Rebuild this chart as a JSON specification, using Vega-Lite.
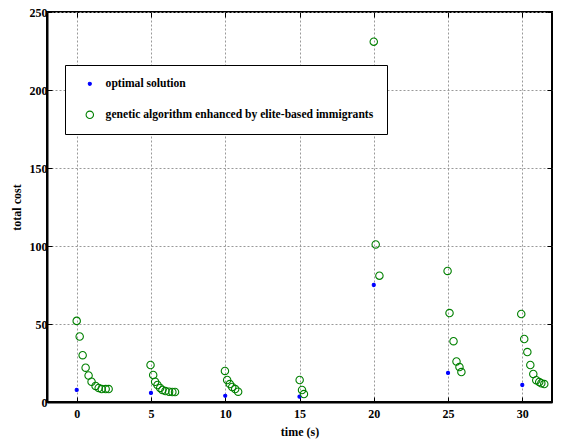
{
  "$schema": "https://vega.github.io/schema/vega-lite/v6.json",
  "width": 505,
  "height": 390,
  "autosize": {"type": "none"},
  "padding": {"left": 47, "top": 12, "right": 9, "bottom": 39},
  "background": "white",
  "config": {
    "view": {"stroke": "black", "strokeWidth": 2},
    "font": "'Liberation Serif', 'Times New Roman', serif",
    "axis": {
      "labelFont": "'Liberation Serif', 'Times New Roman', serif", "labelFontWeight": "bold", "labelFontSize": 12, "labelColor": "black",
      "titleFont": "'Liberation Serif', 'Times New Roman', serif", "titleFontWeight": "bold", "titleFontSize": 12, "titleColor": "black",
      "domainColor": "black", "domainWidth": 2,
      "tickColor": "black", "tickSize": -5, "tickWidth": 1,
      "gridColor": "#999999", "gridDash": [2, 2], "gridWidth": 1
    },
    "legend": {
      "labelFont": "'Liberation Serif', 'Times New Roman', serif", "labelFontWeight": "bold", "labelFontSize": 11.6, "labelColor": "black",
      "labelLimit": 500
    }
  },
  "data": {
    "values": [
      {"t": 0, "cost": 7.7, "series": "optimal solution"},
      {"t": 5, "cost": 5.8, "series": "optimal solution"},
      {"t": 10, "cost": 4.0, "series": "optimal solution"},
      {"t": 15, "cost": 3.4, "series": "optimal solution"},
      {"t": 20, "cost": 75, "series": "optimal solution"},
      {"t": 25, "cost": 18.6, "series": "optimal solution"},
      {"t": 30, "cost": 10.9, "series": "optimal solution"},
      {"t": 0, "cost": 52, "series": "genetic algorithm enhanced by elite-based immigrants"},
      {"t": 0.2, "cost": 42, "series": "genetic algorithm enhanced by elite-based immigrants"},
      {"t": 0.4, "cost": 30, "series": "genetic algorithm enhanced by elite-based immigrants"},
      {"t": 0.6, "cost": 22, "series": "genetic algorithm enhanced by elite-based immigrants"},
      {"t": 0.8, "cost": 17, "series": "genetic algorithm enhanced by elite-based immigrants"},
      {"t": 1.0, "cost": 13, "series": "genetic algorithm enhanced by elite-based immigrants"},
      {"t": 1.27, "cost": 10.3, "series": "genetic algorithm enhanced by elite-based immigrants"},
      {"t": 1.48, "cost": 9.0, "series": "genetic algorithm enhanced by elite-based immigrants"},
      {"t": 1.68, "cost": 8.3, "series": "genetic algorithm enhanced by elite-based immigrants"},
      {"t": 1.95, "cost": 8.3, "series": "genetic algorithm enhanced by elite-based immigrants"},
      {"t": 2.15, "cost": 8.3, "series": "genetic algorithm enhanced by elite-based immigrants"},
      {"t": 4.97, "cost": 23.7, "series": "genetic algorithm enhanced by elite-based immigrants"},
      {"t": 5.15, "cost": 17.3, "series": "genetic algorithm enhanced by elite-based immigrants"},
      {"t": 5.28, "cost": 13, "series": "genetic algorithm enhanced by elite-based immigrants"},
      {"t": 5.44, "cost": 10.9, "series": "genetic algorithm enhanced by elite-based immigrants"},
      {"t": 5.62, "cost": 9.0, "series": "genetic algorithm enhanced by elite-based immigrants"},
      {"t": 5.77, "cost": 7.7, "series": "genetic algorithm enhanced by elite-based immigrants"},
      {"t": 5.97, "cost": 7.0, "series": "genetic algorithm enhanced by elite-based immigrants"},
      {"t": 6.22, "cost": 6.6, "series": "genetic algorithm enhanced by elite-based immigrants"},
      {"t": 6.44, "cost": 6.4, "series": "genetic algorithm enhanced by elite-based immigrants"},
      {"t": 6.62, "cost": 6.4, "series": "genetic algorithm enhanced by elite-based immigrants"},
      {"t": 9.98, "cost": 19.9, "series": "genetic algorithm enhanced by elite-based immigrants"},
      {"t": 10.13, "cost": 14.1, "series": "genetic algorithm enhanced by elite-based immigrants"},
      {"t": 10.31, "cost": 11.5, "series": "genetic algorithm enhanced by elite-based immigrants"},
      {"t": 10.47, "cost": 9.6, "series": "genetic algorithm enhanced by elite-based immigrants"},
      {"t": 10.67, "cost": 8.3, "series": "genetic algorithm enhanced by elite-based immigrants"},
      {"t": 10.87, "cost": 6.6, "series": "genetic algorithm enhanced by elite-based immigrants"},
      {"t": 15.01, "cost": 14.1, "series": "genetic algorithm enhanced by elite-based immigrants"},
      {"t": 15.17, "cost": 7.7, "series": "genetic algorithm enhanced by elite-based immigrants"},
      {"t": 15.3, "cost": 5.1, "series": "genetic algorithm enhanced by elite-based immigrants"},
      {"t": 20, "cost": 231, "series": "genetic algorithm enhanced by elite-based immigrants"},
      {"t": 20.13, "cost": 101, "series": "genetic algorithm enhanced by elite-based immigrants"},
      {"t": 20.38, "cost": 81, "series": "genetic algorithm enhanced by elite-based immigrants"},
      {"t": 24.97, "cost": 84, "series": "genetic algorithm enhanced by elite-based immigrants"},
      {"t": 25.1, "cost": 57, "series": "genetic algorithm enhanced by elite-based immigrants"},
      {"t": 25.37, "cost": 39, "series": "genetic algorithm enhanced by elite-based immigrants"},
      {"t": 25.57, "cost": 26, "series": "genetic algorithm enhanced by elite-based immigrants"},
      {"t": 25.77, "cost": 22.4, "series": "genetic algorithm enhanced by elite-based immigrants"},
      {"t": 25.9, "cost": 19.2, "series": "genetic algorithm enhanced by elite-based immigrants"},
      {"t": 29.93, "cost": 56.4, "series": "genetic algorithm enhanced by elite-based immigrants"},
      {"t": 30.13, "cost": 40.4, "series": "genetic algorithm enhanced by elite-based immigrants"},
      {"t": 30.34, "cost": 32, "series": "genetic algorithm enhanced by elite-based immigrants"},
      {"t": 30.54, "cost": 23.7, "series": "genetic algorithm enhanced by elite-based immigrants"},
      {"t": 30.74, "cost": 18, "series": "genetic algorithm enhanced by elite-based immigrants"},
      {"t": 30.94, "cost": 14, "series": "genetic algorithm enhanced by elite-based immigrants"},
      {"t": 31.14, "cost": 12.8, "series": "genetic algorithm enhanced by elite-based immigrants"},
      {"t": 31.28, "cost": 12, "series": "genetic algorithm enhanced by elite-based immigrants"},
      {"t": 31.48, "cost": 11.5, "series": "genetic algorithm enhanced by elite-based immigrants"}
    ]
  },
  "resolve": {"axis": {"x": "independent", "y": "independent"}},
  "layer": [
    {
      "mark": {"type": "point", "opacity": 0},
      "encoding": {
        "x": {"field": "t", "type": "quantitative", "scale": {"domain": [-2, 32], "nice": false},
          "axis": {"orient": "top", "values": [0, 5, 10, 15, 20, 25, 30], "labels": false, "title": null, "grid": false, "domain": false}},
        "y": {"field": "cost", "type": "quantitative", "scale": {"domain": [0, 250], "nice": false},
          "axis": {"orient": "right", "values": [0, 50, 100, 150, 200, 250], "labels": false, "title": null, "grid": false, "domain": false}}
      }
    },
    {
      "mark": {"type": "point", "strokeWidth": 1.1, "opacity": 1},
      "encoding": {
        "x": {"field": "t", "type": "quantitative", "scale": {"domain": [-2, 32], "nice": false},
          "axis": {"orient": "bottom", "values": [0, 5, 10, 15, 20, 25, 30], "title": "time (s)", "grid": true, "labelPadding": 11, "titlePadding": 7}},
        "y": {"field": "cost", "type": "quantitative", "scale": {"domain": [0, 250], "nice": false},
          "axis": {"orient": "left", "values": [0, 50, 100, 150, 200, 250], "title": "total cost", "grid": true, "labelPadding": 5, "titlePadding": 6}},
        "fill": {"field": "series", "type": "nominal",
          "scale": {"domain": ["optimal solution", "genetic algorithm enhanced by elite-based immigrants"], "range": ["#0000ff", "transparent"]},
          "legend": {"title": null, "orient": "none", "legendX": 18, "legendY": 53, "strokeColor": "black", "fillColor": "white", "padding": 13, "symbolOffset": 6, "labelOffset": 10, "rowPadding": 18, "symbolStrokeWidth": 1.1}},
        "stroke": {"field": "series", "type": "nominal",
          "scale": {"domain": ["optimal solution", "genetic algorithm enhanced by elite-based immigrants"], "range": ["#0000ff", "#008000"]},
          "legend": {"title": null, "orient": "none", "legendX": 18, "legendY": 53, "strokeColor": "black", "fillColor": "white", "padding": 13, "symbolOffset": 6, "labelOffset": 10, "rowPadding": 18, "symbolStrokeWidth": 1.1}},
        "size": {"field": "series", "type": "nominal",
          "scale": {"domain": ["optimal solution", "genetic algorithm enhanced by elite-based immigrants"], "range": [10, 55]},
          "legend": {"title": null, "orient": "none", "legendX": 18, "legendY": 53, "strokeColor": "black", "fillColor": "white", "padding": 13, "symbolOffset": 6, "labelOffset": 10, "rowPadding": 18, "symbolStrokeWidth": 1.1}}
      }
    }
  ]
}
